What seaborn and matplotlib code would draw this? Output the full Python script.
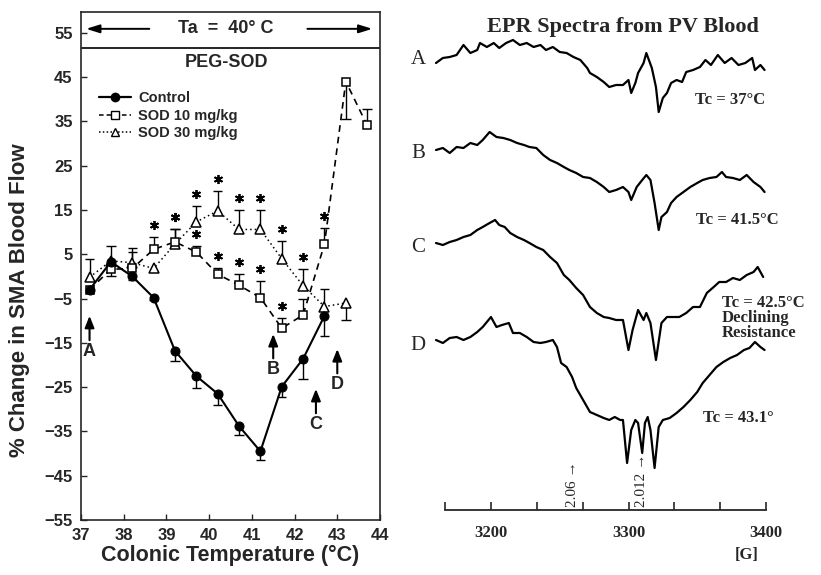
import numpy as np
import matplotlib
matplotlib.use("Agg")
import matplotlib.pyplot as plt
import seaborn as sns
from matplotlib.lines import Line2D

# ---- left panel: % change in SMA blood flow vs colonic temperature ----
ctrl_t = [37.2, 37.7, 38.2, 38.7, 39.2, 39.7, 40.2, 40.7, 41.2, 41.7, 42.2, 42.7]
ctrl_y = [-3, 3.3, 0, -4.8, -16.8, -22.5, -26.5, -33.8, -39.5, -24.9, -18.6, -8.9]
ctrl_lo = [0.6, 0.8, 0.8, 0.6, 2.2, 2.7, 2.5, 2.1, 2.0, 2.4, 4.6, 4.6]

sod10_t = [37.2, 37.7, 38.2, 38.7, 39.2, 39.7, 40.2, 40.7, 41.2, 41.7, 42.2, 42.7, 43.2, 43.7]
sod10_y = [-3, 1.6, 1.8, 6.1, 7.8, 5.5, 0.5, -2.0, -4.8, -11.7, -8.7, 7.3, 44.0, 34.1]
sod10_hi = [0, 0, 3.6, 2.9, 3.0, 1.4, 1.3, 2.5, 3.8, 2.4, 3.7, 3.7, 0, 3.7]
sod10_lo = [0, 1.5, 0, 0, 0, 0, 0, 0, 0, 0, 0, 0, 8.4, 0]
sod10_sig = [38.7, 39.2, 39.7, 40.2, 40.7, 41.2, 41.7, 42.7]

sod30_t = [37.2, 37.7, 38.2, 38.7, 39.2, 39.7, 40.2, 40.7, 41.2, 41.7, 42.2, 42.7, 43.2]
sod30_y = [-0.2, 3.5, 3.1, 1.8, 7.3, 12.3, 14.8, 10.6, 10.6, 4.0, -2.1, -6.8, -6.0]
sod30_hi = [4.1, 3.4, 3.4, 0, 3.5, 3.6, 4.5, 4.3, 4.3, 4.0, 3.7, 3.9, 0]
sod30_lo = [0, 0, 0, 0, 0, 0, 0, 0, 0, 0, 0, 0, 3.8]
sod30_sig = [39.2, 39.7, 40.2, 40.7, 41.2, 41.7, 42.2]

arrow_lbl = ["A", "B", "C", "D"]
arrow_t = [37.2, 41.5, 42.5, 43.0]
arrow_tip = [-8.9, -13.0, -25.4, -16.4]

# ---- right panel: EPR spectra (field in G, trace height in arbitrary units) ----
specA_G = [3160, 3165, 3170, 3175, 3180, 3185, 3190, 3192, 3197, 3202, 3206, 3211, 3216, 3221, 3226,
           3231, 3236, 3240, 3245, 3250, 3255, 3260, 3265, 3270, 3272, 3277, 3282, 3286, 3291, 3296,
           3300, 3302, 3305, 3307, 3311, 3313, 3317, 3320, 3322, 3325, 3328, 3331, 3335, 3339, 3342,
           3347, 3352, 3356, 3360, 3365, 3370, 3375, 3380, 3385, 3390, 3392, 3396, 3399]
specA_h = [447, 452, 453, 455, 465, 457, 460, 467, 463, 467, 462, 467, 470, 465, 467,
           463, 465, 460, 463, 458, 457, 453, 450, 442, 437, 433, 428, 423, 425, 425,
           430, 417, 427, 437, 447, 457, 442, 423, 398, 412, 417, 427, 430, 428, 438,
           440, 443, 450, 445, 455, 447, 452, 445, 447, 452, 440, 445, 440]

specB_G = [3160, 3165, 3170, 3175, 3180, 3185, 3190, 3194, 3199, 3204, 3209, 3214, 3219, 3224, 3228,
           3233, 3238, 3243, 3248, 3253, 3257, 3262, 3267, 3272, 3277, 3282, 3286, 3291, 3296, 3300,
           3302, 3306, 3310, 3313, 3316, 3319, 3322, 3324, 3328, 3331, 3335, 3340, 3345, 3350, 3354,
           3359, 3364, 3368, 3371, 3376, 3381, 3386, 3391, 3396, 3399]
specB_h = [360, 362, 357, 363, 362, 367, 365, 370, 378, 373, 372, 370, 367, 365, 363,
           362, 355, 350, 347, 343, 340, 337, 333, 332, 328, 323, 318, 320, 323, 318,
           310, 323, 330, 335, 330, 307, 280, 293, 298, 307, 313, 318, 323, 327, 330,
           332, 333, 338, 333, 332, 330, 335, 328, 323, 318]

specC_G = [3160, 3165, 3170, 3175, 3180, 3185, 3190, 3194, 3199, 3203, 3206, 3210, 3214, 3219, 3224,
           3228, 3233, 3238, 3243, 3248, 3253, 3257, 3262, 3267, 3272, 3277, 3282, 3286, 3291, 3296,
           3300, 3303, 3307, 3311, 3313, 3316, 3320, 3324, 3328, 3333, 3337, 3342, 3347, 3352, 3357,
           3362, 3366, 3371, 3376, 3381, 3386, 3391, 3394, 3398]
specC_h = [267, 265, 268, 270, 273, 275, 280, 283, 287, 290, 285, 283, 277, 273, 270,
           267, 263, 260, 253, 247, 235, 230, 222, 215, 203, 197, 193, 192, 190, 190,
           160, 180, 200, 190, 197, 187, 150, 187, 193, 193, 193, 197, 203, 203, 217,
           223, 228, 228, 232, 230, 235, 238, 243, 233]

specD_G = [3160, 3165, 3170, 3175, 3180, 3185, 3190, 3194, 3200, 3204, 3208, 3213, 3216, 3221, 3226,
           3231, 3236, 3240, 3245, 3248, 3251, 3255, 3259, 3262, 3267, 3272, 3277, 3282, 3286, 3290,
           3294, 3296, 3299, 3302, 3305, 3307, 3310, 3312, 3314, 3316, 3319, 3322, 3325, 3330, 3335,
           3340, 3345, 3350, 3354, 3359, 3364, 3369, 3374, 3379, 3384, 3388, 3392, 3396, 3399]
specD_h = [170, 167, 172, 173, 170, 173, 178, 183, 193, 183, 185, 187, 177, 177, 173,
           168, 167, 168, 170, 163, 147, 143, 133, 122, 110, 98, 95, 92, 90, 93,
           90, 90, 47, 80, 90, 87, 57, 87, 93, 80, 42, 83, 90, 92, 97,
           103, 110, 118, 127, 135, 143, 148, 152, 155, 160, 162, 168, 163, 160]

spec_names = ["A", "B", "C", "D"]
g_marks = ["2.06", "2.012"]
g_field = [3259.6, 3309.6]

sns.set_style("ticks")
plt.rcParams["font.family"] = ["Liberation Sans", "DejaVu Sans"]
serif = ["Liberation Serif", "DejaVu Serif"]

fig = plt.figure(figsize=(8.21, 5.75), dpi=100)

# ================= left panel =================
ax = fig.add_axes([81 / 821, 1 - 520 / 575, 299 / 821, 508 / 575])


def err_bars(t, y, lo, hi):
    for ti, yi, l, h in zip(t, y, lo, hi):
        if h > 0:
            ax.vlines(ti, yi, yi + h, color="k", lw=1.0, zorder=2)
            ax.hlines(yi + h, ti - 0.11, ti + 0.11, color="k", lw=1.0, zorder=2)
        if l > 0:
            ax.vlines(ti, yi - l, yi, color="k", lw=1.0, zorder=2)
            ax.hlines(yi - l, ti - 0.11, ti + 0.11, color="k", lw=1.0, zorder=2)


err_bars(ctrl_t, ctrl_y, ctrl_lo, [0] * len(ctrl_t))
err_bars(sod10_t, sod10_y, sod10_lo, sod10_hi)
err_bars(sod30_t, sod30_y, sod30_lo, sod30_hi)

sns.lineplot(x=sod30_t, y=sod30_y, ax=ax, color="k", lw=1.1, linestyle=(0, (1, 2)),
             marker="^", markersize=6.5, markerfacecolor="white", markeredgecolor="k",
             markeredgewidth=1.1, zorder=3)
sns.lineplot(x=sod10_t, y=sod10_y, ax=ax, color="k", lw=1.2, linestyle=(0, (4, 3)),
             marker="s", markersize=5.5, markerfacecolor="white", markeredgecolor="k",
             markeredgewidth=1.1, zorder=3)
sns.lineplot(x=ctrl_t, y=ctrl_y, ax=ax, color="k", lw=1.5, marker="o", markersize=6.5,
             markerfacecolor="k", markeredgecolor="k", zorder=4)

# significance asterisks above the error caps
sig10 = [(t, y + h + 2.7) for t, y, h in zip(sod10_t, sod10_y, sod10_hi) if t in sod10_sig]
sig30 = [(t, y + h + 2.7) for t, y, h in zip(sod30_t, sod30_y, sod30_hi) if t in sod30_sig]
for pts in (sig10, sig30):
    ax.plot([p[0] for p in pts], [p[1] for p in pts], linestyle="none",
            marker=(6, 2, 0), markersize=6.5, markeredgewidth=1.3, color="k", zorder=5)

# A-D arrows
for lbl, t, tip in zip(arrow_lbl, arrow_t, arrow_tip):
    ax.annotate("", xy=(t, tip), xytext=(t, tip - 5.5),
                arrowprops=dict(arrowstyle="-|>,head_length=0.7,head_width=0.28",
                                color="k", lw=1.5, shrinkA=0, shrinkB=0))
    ax.text(t, tip - 8.0, lbl, ha="center", va="center", fontsize=13, fontweight="bold")

# header strip
ax.axhline(51.6, color="k", lw=1.2)
ax.text(40.4, 55.9, "Ta  =  40\u00b0 C", ha="center", va="center", fontsize=13, fontweight="bold")
ax.annotate("", xy=(37.12, 55.9), xytext=(38.6, 55.9),
            arrowprops=dict(arrowstyle="-|>,head_length=0.8,head_width=0.25", color="k",
                            lw=1.4, shrinkA=0, shrinkB=0))
ax.annotate("", xy=(43.82, 55.9), xytext=(42.3, 55.9),
            arrowprops=dict(arrowstyle="-|>,head_length=0.8,head_width=0.25", color="k",
                            lw=1.4, shrinkA=0, shrinkB=0))
ax.text(40.4, 48.2, "PEG-SOD", ha="center", va="center", fontsize=13, fontweight="bold")

handles = [
    Line2D([], [], color="k", lw=1.6, marker="o", markersize=6, markerfacecolor="k"),
    Line2D([], [], color="k", lw=1.1, linestyle=(0, (3, 2)), marker="s", markersize=5.5,
           markerfacecolor="white"),
    Line2D([], [], color="k", lw=1.1, linestyle=(0, (1, 1.5)), marker="^", markersize=6,
           markerfacecolor="white"),
]
ax.legend(handles, ["Control", "SOD 10 mg/kg", "SOD 30 mg/kg"], loc="upper left",
          bbox_to_anchor=(0.04, 0.855), frameon=False, handlelength=2.2, handletextpad=0.5,
          labelspacing=0.22, borderaxespad=0, prop=dict(weight="bold", size=10.5))

ax.set_xlim(37, 44)
ax.set_ylim(-55, 59.7)
ax.set_xticks(range(37, 45))
ax.set_yticks(range(-55, 56, 10))
ax.tick_params(direction="in", length=4, width=1, labelsize=12, pad=6)
for lab in ax.get_xticklabels() + ax.get_yticklabels():
    lab.set_fontweight("bold")
for s in ax.spines.values():
    s.set_linewidth(1.2)
ax.set_xlabel("Colonic Temperature (\u00b0C)", fontsize=15.5, fontweight="bold")
ax.set_ylabel("% Change in SMA Blood Flow", fontsize=16, fontweight="bold")
ax.xaxis.set_label_coords(0.5, -0.05)
ax.yaxis.set_label_coords(-0.17, 0.433)

# ================= right panel =================
ax2 = fig.add_axes([410 / 821, 65 / 575, 380 / 821, 510 / 575])
for G, h in [(specA_G, specA_h), (specB_G, specB_h), (specC_G, specC_h), (specD_G, specD_h)]:
    sns.lineplot(x=G, y=h, ax=ax2, color="k", lw=1.6)

ax2.set_xlim(3141.1, 3417.5)
ax2.set_ylim(0, 510)
for s in ["left", "right", "top"]:
    ax2.spines[s].set_visible(False)
ax2.spines["bottom"].set_bounds(3166.7, 3400)
ax2.spines["bottom"].set_linewidth(1.3)
ticks = [3166.7 + k * 100 / 3 for k in range(8)]
ax2.set_xticks(ticks)
ax2.set_xticklabels(["", "3200", "", "", "3300", "", "", "3400"])
ax2.set_yticks([])
ax2.tick_params(axis="x", direction="in", length=6, width=1.2, pad=11, labelsize=12)
for lab in ax2.get_xticklabels():
    lab.set_fontweight("bold")
    lab.set_family(serif)
ax2.set_xlabel("")
ax2.set_ylabel("")

for name, h in zip(spec_names, [450, 357, 263, 165]):
    ax2.text(3147, h, name, ha="center", va="center", fontsize=15, family=serif)

ax2.text(3296, 483, "EPR Spectra from PV Blood", ha="center", va="center", fontsize=16,
         fontweight="bold", family=serif)
ax2.text(3399.5, 410, "Tc = 37\u00b0C", ha="right", va="center", fontsize=12,
         fontweight="bold", family=serif)
ax2.text(3409, 290, "Tc = 41.5\u00b0C", ha="right", va="center", fontsize=12,
         fontweight="bold", family=serif)
ax2.text(3368, 192, "Tc = 42.5\u00b0C\nDeclining\nResistance", ha="left", va="center",
         fontsize=12, fontweight="bold", family=serif, linespacing=0.95)
ax2.text(3354, 92, "Tc = 43.1\u00b0", ha="left", va="center", fontsize=12,
         fontweight="bold", family=serif)
for g, f in zip(g_marks, g_field):
    ax2.text(f, 3, g + " \u2192", rotation=90, ha="center", va="bottom", fontsize=11,
             family=serif)
ax2.text(3386, -45, "[G]", ha="center", va="center", fontsize=12, fontweight="bold",
         family=serif, clip_on=False)

fig.savefig("out.png", dpi=100)
